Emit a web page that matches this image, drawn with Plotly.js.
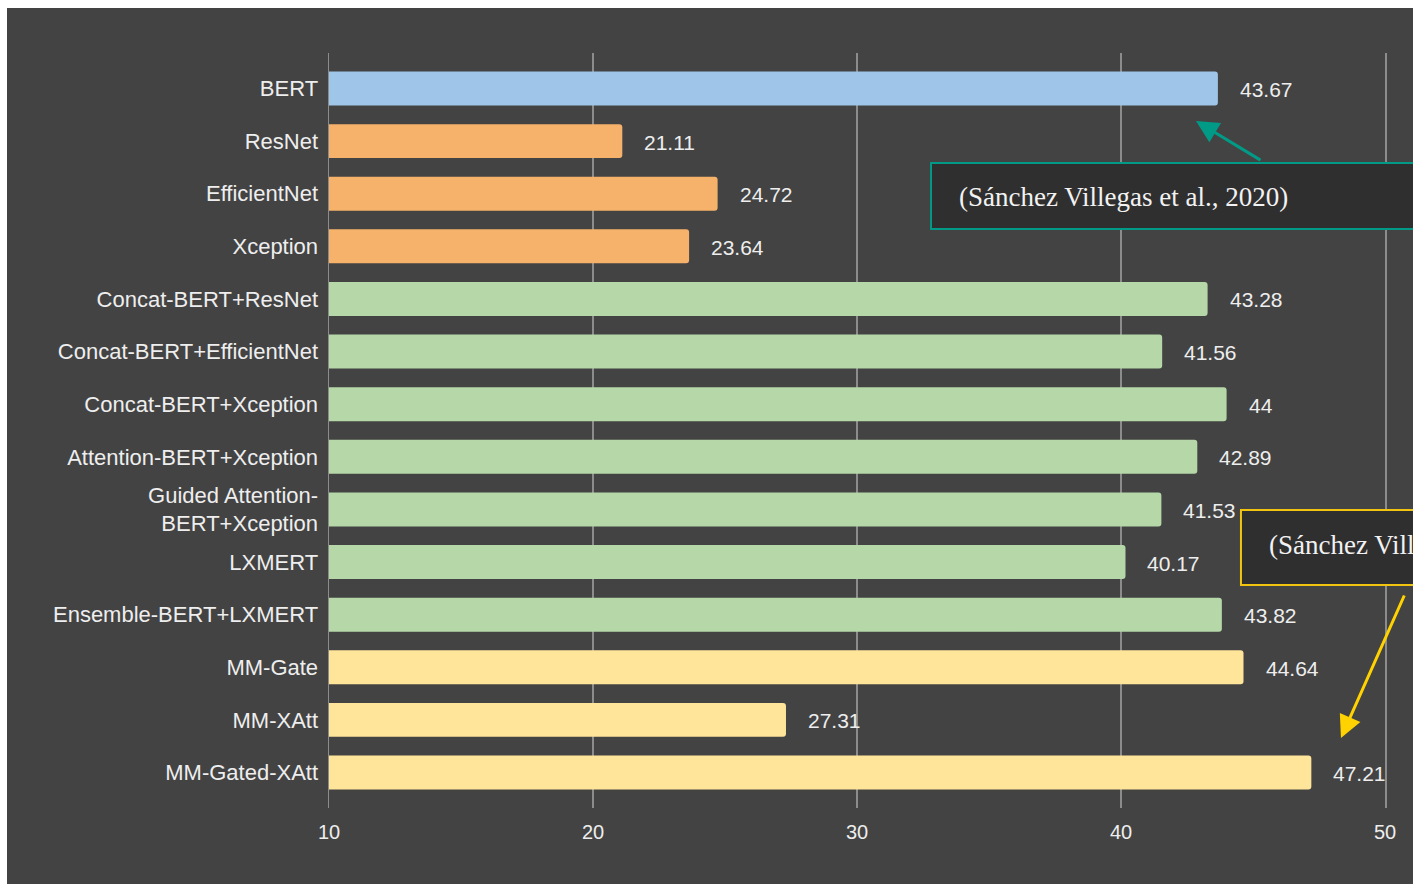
<!DOCTYPE html>
<html>
<head>
<meta charset="utf-8">
<script src="https://cdn.plot.ly/plotly-3.0.1.min.js"></script>
<style>
  html, body { margin: 0; padding: 0; background: #ffffff; width: 1413px; height: 884px; overflow: hidden; }
  #chart { position: absolute; left: 7px; top: 8px; width: 1406px; height: 876px; }
</style>
</head>
<body>
<div id="chart"></div>
<script>
// ---- data ----
const categories = [
  'BERT', 'ResNet', 'EfficientNet', 'Xception',
  'Concat-BERT+ResNet', 'Concat-BERT+EfficientNet', 'Concat-BERT+Xception',
  'Attention-BERT+Xception', 'Guided Attention-<br>BERT+Xception', 'LXMERT',
  'Ensemble-BERT+LXMERT', 'MM-Gate', 'MM-XAtt', 'MM-Gated-XAtt'
];
const values = [43.67, 21.11, 24.72, 23.64, 43.28, 41.56, 44, 42.89, 41.53, 40.17, 43.82, 44.64, 27.31, 47.21];
const valueLabels = ['43.67', '21.11', '24.72', '23.64', '43.28', '41.56', '44', '42.89', '41.53', '40.17', '43.82', '44.64', '27.31', '47.21'];
const groups = ['text', 'image', 'image', 'image', 'multi', 'multi', 'multi', 'multi', 'multi', 'multi', 'multi', 'ours', 'ours', 'ours'];
const xTicks = [10, 20, 30, 40, 50];
const citation = '(Sánchez Villegas et al., 2020)';

// ---- styles ----
const groupColors = { text: '#9fc5e8', image: '#f6b26b', multi: '#b6d7a8', ours: '#ffe599' };
const bg = '#434343';
const fg = '#eeeeee';
const gridColor = '#8c8c8c';
const sans = '"Liberation Sans", Arial, sans-serif';
const yLabelFont = { family: sans, size: 22, color: fg };
const valueFont = { family: sans, size: 21, color: fg };
const xLabelFont = { family: sans, size: 20, color: fg };

const trace = {
  type: 'bar',
  orientation: 'h',
  x: values,
  y: categories,
  marker: { color: groups.map(g => groupColors[g]), line: { width: 0 } },
  hoverinfo: 'skip'
};

const valueAnnotations = values.map((v, i) => ({
  x: v, y: categories[i], xref: 'x', yref: 'y',
  text: valueLabels[i], showarrow: false,
  xanchor: 'left', yanchor: 'middle', xshift: 20, yshift: -1,
  font: valueFont
}));

const serifFont = { family: '"Liberation Serif", "DejaVu Serif", serif', size: 27, color: '#f2f2f2' };

const layout = {
  width: 1406, height: 876,
  paper_bgcolor: bg, plot_bgcolor: bg,
  margin: { l: 322, r: 28, t: 45, b: 76 },
  showlegend: false,
  bargap: 0.354,
  barcornerradius: 3,
  xaxis: {
    range: [10, 50],
    tickvals: xTicks,
    ticktext: xTicks.map(String),
    showgrid: true, gridcolor: gridColor, gridwidth: 1.5,
    zeroline: false, showline: false, ticks: '',
    ticklabelstandoff: 10,
    tickfont: xLabelFont,
    fixedrange: true
  },
  yaxis: {
    type: 'category',
    range: [13.675, -0.675],
    showgrid: false, zeroline: false,
    showline: true, mirror: true, linecolor: gridColor, linewidth: 1.5,
    ticks: '',
    ticklabelstandoff: 5,
    tickfont: yLabelFont,
    fixedrange: true
  },
  shapes: [
    { type: 'rect', xref: 'paper', yref: 'paper', x0: 0.5701, x1: 1.2, y0: 0.7669, y1: 0.8543,
      fillcolor: '#2f2f2f', line: { color: '#009a87', width: 2 }, layer: 'above' },
    { type: 'rect', xref: 'paper', yref: 'paper', x0: 0.8636, x1: 1.2, y0: 0.2954, y1: 0.3947,
      fillcolor: '#2f2f2f', line: { color: '#f1c40f', width: 2 }, layer: 'above' }
  ],
  annotations: valueAnnotations.concat([
    { xref: 'paper', yref: 'paper', x: 0.5947, y: 0.8093, xanchor: 'left', yanchor: 'middle',
      text: citation, showarrow: false, font: serifFont },
    { xref: 'paper', yref: 'paper', x: 0.8883, y: 0.3483, xanchor: 'left', yanchor: 'middle',
      text: citation, showarrow: false, font: serifFont },
    { xref: 'paper', yref: 'paper', x: 0.8210, y: 0.9099, text: '', showarrow: true,
      axref: 'pixel', ayref: 'pixel', ax: 66, ay: 40,
      arrowcolor: '#009a87', arrowwidth: 3, arrowhead: 2, arrowsize: 1.5, standoff: 0 },
    { xref: 'paper', yref: 'paper', x: 0.9583, y: 0.0927, text: '', showarrow: true,
      axref: 'pixel', ayref: 'pixel', ax: 64, ay: -144,
      arrowcolor: '#ffd200', arrowwidth: 3, arrowhead: 2, arrowsize: 1.5, standoff: 0 }
  ])
};

Plotly.newPlot('chart', [trace], layout, { displayModeBar: false, staticPlot: true });
</script>
</body>
</html>
